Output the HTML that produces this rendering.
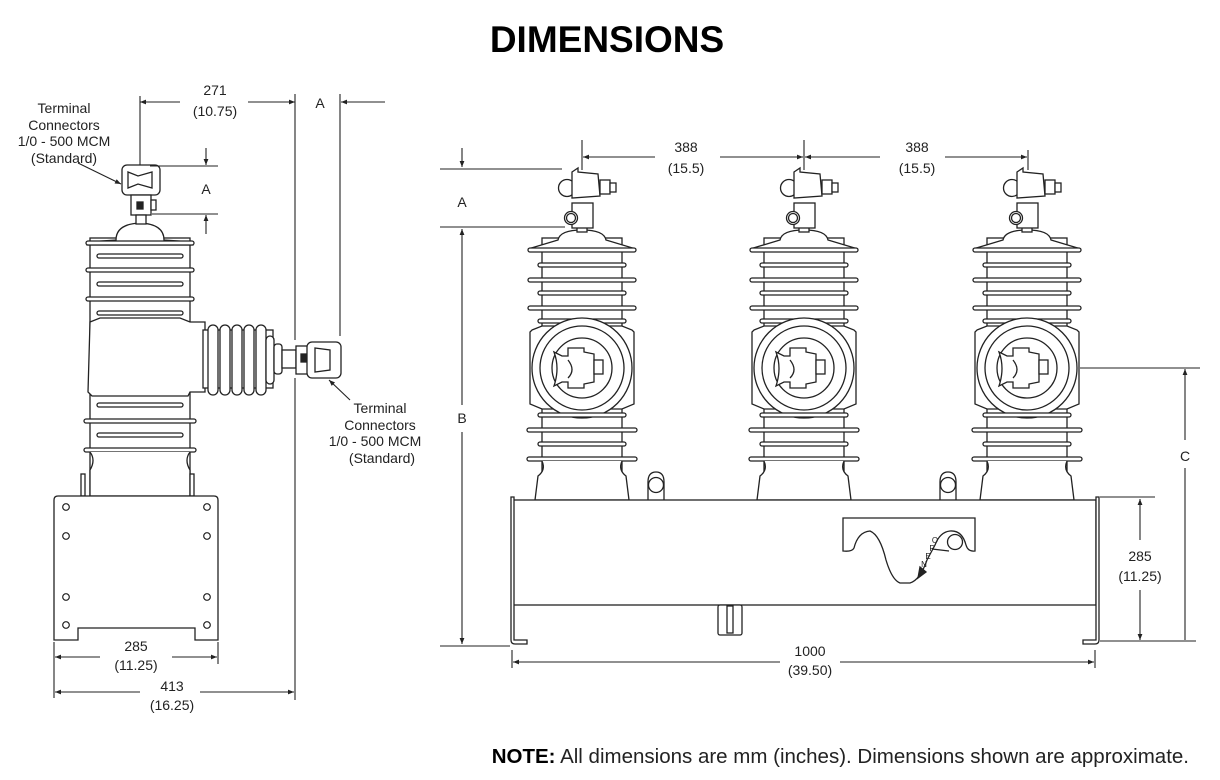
<!DOCTYPE html>
<html><head><meta charset="utf-8"><style>
html,body{margin:0;padding:0;background:#fff}
svg{display:block}
text{font-family:"Liberation Sans",sans-serif;fill:#222}
</style></head><body>
<svg width="1220" height="780" viewBox="0 0 1220 780" xmlns="http://www.w3.org/2000/svg">
<defs>
<marker id="ar" viewBox="0 0 10 10" refX="10" refY="5" markerWidth="8" markerHeight="6" orient="auto-start-reverse" markerUnits="userSpaceOnUse"><path d="M0,1 L10,5 L0,9 Z" fill="#222"/></marker>
<g id="pole" stroke="#222" stroke-width="1.3" fill="#fff">
  <rect x="-40" y="238" width="80" height="262"/>
  <path d="M-24,240 Q-22,230 0,230 Q22,230 24,240 L54,249 L-54,249 Z"/>
  <rect x="-54" y="248" width="108" height="4" rx="2"/>
  <rect x="-44" y="263" width="88" height="4" rx="2"/>
  <rect x="-54" y="278" width="108" height="4" rx="2"/>
  <rect x="-44" y="291" width="88" height="4" rx="2"/>
  <rect x="-54" y="306" width="108" height="4" rx="2"/>
  <rect x="-44" y="319" width="88" height="4" rx="2"/>
  <path d="M-50,330 L-40,326 L40,326 L50,330 L52,332 L52,404 L40,409 L-40,409 L-52,404 L-52,332 Z"/>
  <circle cx="0" cy="368" r="50"/>
  <circle cx="0" cy="368" r="42"/>
  <circle cx="0" cy="368" r="30"/>
  <path d="M-28,352 L-20,356 L-14,356 L-14,348 L2,348 L2,352 L12,354 L12,382 L2,384 L2,388 L-14,388 L-14,382 L-20,382 L-28,386 Q-22,368 -28,352 Z"/>
  <rect x="12" y="360" width="9" height="14"/>
  <path d="M-14,360 Q-6,370 -14,378" fill="none"/>
  <rect x="-44" y="413" width="88" height="4" rx="2"/>
  <rect x="-55" y="428" width="110" height="4" rx="2"/>
  <rect x="-44" y="442" width="88" height="4" rx="2"/>
  <rect x="-55" y="457" width="110" height="4" rx="2"/>
  <path d="M-40,461 Q-36,470 -44,476 L-47,500 L47,500 L44,476 Q36,470 40,461"/>
  <rect x="-5" y="227" width="10" height="5"/>
  <rect x="-10" y="203" width="21" height="25"/>
  <circle cx="-11" cy="218" r="6.5"/>
  <circle cx="-11" cy="218" r="4.5"/>
  <circle cx="-15" cy="188" r="8.5"/>
  <path d="M-10,172 L-4,168 L-4,172 L16,174 L18,196 L-10,198 Z"/>
  <rect x="18" y="180" width="10" height="14"/>
  <rect x="28" y="183" width="6" height="9"/>
</g>
</defs>

<text x="607" y="52" font-size="37" font-weight="bold" text-anchor="middle" style="fill:#000">DIMENSIONS</text>

<!-- LEFT VIEW -->
<g stroke="#222" stroke-width="1.3" fill="#fff">
  <rect x="90" y="238" width="100" height="258"/>
  <path d="M116,240 Q116,224 140,223 Q164,224 164,240 L193,242 L193,245 L87,245 L87,242 Z"/>
  <rect x="86" y="241" width="108" height="4" rx="2"/>
  <rect x="97" y="254" width="86" height="4" rx="2"/>
  <rect x="86" y="268" width="108" height="4" rx="2"/>
  <rect x="97" y="282" width="86" height="4" rx="2"/>
  <rect x="86" y="297" width="108" height="4" rx="2"/>
  <rect x="97" y="311" width="86" height="4" rx="2"/>
  <path d="M90,322 L100,318 L180,318 L190,322 L205,322 L205,392 L190,392 L188,396 L92,396 L88,392 Z"/>
  <rect x="97" y="403" width="86" height="4" rx="2"/>
  <rect x="84" y="419" width="112" height="4" rx="2"/>
  <rect x="97" y="433" width="86" height="4" rx="2"/>
  <rect x="84" y="448" width="112" height="4" rx="2"/>
  <path d="M90,452 Q96,460 90,470 L90,496 L190,496 L190,470 Q184,460 190,452"/>
  <rect x="81" y="474" width="4" height="22"/>
  <rect x="190" y="474" width="4" height="22"/>
  <rect x="203" y="330" width="70" height="58"/>
  <rect x="208" y="325" width="10" height="70" rx="5"/>
  <rect x="220" y="325" width="10" height="70" rx="5"/>
  <rect x="232" y="325" width="10" height="70" rx="5"/>
  <rect x="244" y="325" width="10" height="70" rx="5"/>
  <rect x="256" y="325" width="10" height="70" rx="5"/>
  <rect x="266" y="336" width="8" height="48" rx="4"/>
  <rect x="274" y="344" width="8" height="30" rx="3"/>
  <rect x="282" y="350" width="14" height="18"/>
  <rect x="296" y="346" width="16" height="28"/>
  <rect x="307" y="342" width="34" height="36" rx="5"/>
  <path d="M315,348 L330,350 L330,370 L315,372 Z" fill="none"/>
  <rect x="301" y="354" width="5" height="8" fill="#222"/>
  <rect x="122" y="165" width="38" height="30" rx="5"/>
  <path d="M128,172 L138,176 L152,172 L152,188 L138,184 L128,188 Z" fill="none"/>
  <rect x="131" y="195" width="20" height="20"/>
  <rect x="137" y="202" width="6" height="7" fill="#222"/>
  <rect x="151" y="200" width="5" height="10"/>
  <rect x="136" y="215" width="10" height="9"/>
  <path d="M54,500 Q54,496 58,496 L214,496 Q218,496 218,500 L218,640 L195,640 L195,628 L78,628 L78,640 L54,640 Z"/>
</g>
<g stroke="#222" stroke-width="1.2" fill="#fff">
  <circle cx="66" cy="507" r="3.3"/><circle cx="66" cy="536" r="3.3"/><circle cx="66" cy="597" r="3.3"/><circle cx="66" cy="625" r="3.3"/>
  <circle cx="207" cy="507" r="3.3"/><circle cx="207" cy="536" r="3.3"/><circle cx="207" cy="597" r="3.3"/><circle cx="207" cy="625" r="3.3"/>
</g>
<g stroke="#222" stroke-width="1.1" fill="none">
  <line x1="140" y1="96" x2="140" y2="165"/>
  <line x1="295" y1="94" x2="295" y2="340"/>
  <line x1="295" y1="378" x2="295" y2="700"/>
  <line x1="340" y1="94" x2="340" y2="336"/>
  <line x1="140" y1="102" x2="180" y2="102" marker-start="url(#ar)"/>
  <line x1="248" y1="102" x2="295" y2="102" marker-end="url(#ar)"/>
  <line x1="385" y1="102" x2="341" y2="102" marker-end="url(#ar)"/>
  <line x1="150" y1="166" x2="218" y2="166"/>
  <line x1="152" y1="214" x2="218" y2="214"/>
  <line x1="206" y1="148" x2="206" y2="165" marker-end="url(#ar)"/>
  <line x1="206" y1="234" x2="206" y2="215" marker-end="url(#ar)"/>
  <line x1="78" y1="163" x2="121" y2="184" marker-end="url(#ar)"/>
  <line x1="350" y1="400" x2="329" y2="380" marker-end="url(#ar)"/>
  <line x1="54" y1="642" x2="54" y2="698"/>
  <line x1="218" y1="642" x2="218" y2="664"/>
  <line x1="55" y1="657" x2="100" y2="657" marker-start="url(#ar)"/>
  <line x1="172" y1="657" x2="217" y2="657" marker-end="url(#ar)"/>
  <line x1="55" y1="692" x2="140" y2="692" marker-start="url(#ar)"/>
  <line x1="200" y1="692" x2="294" y2="692" marker-end="url(#ar)"/>
</g>
<g font-size="14" text-anchor="middle">
  <text x="215" y="95">271</text><text x="215" y="116">(10.75)</text>
  <text x="320" y="108">A</text>
  <text x="206" y="194">A</text>
  <text x="64" y="113">Terminal</text><text x="64" y="130">Connectors</text><text x="64" y="146">1/0 - 500 MCM</text><text x="64" y="163">(Standard)</text>
  <text x="380" y="413">Terminal</text><text x="380" y="430">Connectors</text><text x="375" y="446">1/0 - 500 MCM</text><text x="382" y="463">(Standard)</text>
  <text x="136" y="651">285</text><text x="136" y="670">(11.25)</text>
  <text x="172" y="691">413</text><text x="172" y="710">(16.25)</text>
</g>

<!-- RIGHT VIEW -->
<g stroke="#222" stroke-width="1.3" fill="#fff">
  <path d="M648,500 L648,482 Q648,472 656,472 Q664,472 664,482 L664,500"/>
  <circle cx="656" cy="485" r="7.5"/>
  <path d="M940,500 L940,482 Q940,472 948,472 Q956,472 956,482 L956,500"/>
  <circle cx="948" cy="485" r="7.5"/>
</g>
<use href="#pole" x="582"/>
<use href="#pole" x="804"/>
<use href="#pole" x="1027"/>
<g stroke="#222" stroke-width="1.3" fill="#fff">
  <rect x="513" y="500" width="583" height="105"/>
  <path d="M511,497 L514,497 L514,640 L527,640 L527,644 L515,644 Q511,644 511,640 Z"/>
  <path d="M1099,497 L1096,497 L1096,640 L1083,640 L1083,644 L1095,644 Q1099,644 1099,640 Z"/>
  <path d="M843,518 L975,518 L975,551 Q968,552 966,545 Q962,530 950,531 Q940,532 935,545 L927,560 Q920,580 910,583 L900,583 Q892,580 886,560 Q880,535 870,531 Q858,532 854,548 Q852,552 843,551 Z"/>
  <circle cx="955" cy="542" r="7.5"/>
  <path d="M932,549 L949,551" fill="none"/>
  <path d="M920,567 L926,572 L918,578 Z" fill="#222"/>
  <rect x="718" y="605" width="24" height="30" rx="2"/>
  <rect x="727" y="606" width="6" height="27"/>
</g>
<g font-size="8" text-anchor="middle">
  <text x="935" y="543">O</text><text x="932" y="551">P</text><text x="928" y="559">E</text><text x="924" y="567">N</text>
</g>
<g stroke="#222" stroke-width="1.1" fill="none">
  <line x1="582" y1="140" x2="582" y2="170"/>
  <line x1="804" y1="140" x2="804" y2="170"/>
  <line x1="1028" y1="150" x2="1028" y2="170"/>
  <line x1="583" y1="157" x2="655" y2="157" marker-start="url(#ar)"/>
  <line x1="720" y1="157" x2="803" y2="157" marker-end="url(#ar)"/>
  <line x1="805" y1="157" x2="880" y2="157" marker-start="url(#ar)"/>
  <line x1="945" y1="157" x2="1027" y2="157" marker-end="url(#ar)"/>
  <line x1="440" y1="169" x2="562" y2="169"/>
  <line x1="440" y1="227" x2="565" y2="227"/>
  <line x1="462" y1="148" x2="462" y2="167" marker-end="url(#ar)"/>
  <line x1="462" y1="229" x2="462" y2="405" marker-start="url(#ar)"/>
  <line x1="462" y1="432" x2="462" y2="644" marker-end="url(#ar)"/>
  <line x1="440" y1="646" x2="510" y2="646"/>
  <line x1="1080" y1="368" x2="1200" y2="368"/>
  <line x1="1185" y1="369" x2="1185" y2="440" marker-start="url(#ar)"/>
  <line x1="1185" y1="468" x2="1185" y2="640"/>
  <line x1="1100" y1="641" x2="1196" y2="641"/>
  <line x1="1100" y1="497" x2="1155" y2="497"/>
  <line x1="1140" y1="499" x2="1140" y2="540" marker-start="url(#ar)"/>
  <line x1="1140" y1="590" x2="1140" y2="640" marker-end="url(#ar)"/>
  <line x1="512" y1="650" x2="512" y2="668"/>
  <line x1="1095" y1="650" x2="1095" y2="668"/>
  <line x1="513" y1="662" x2="780" y2="662" marker-start="url(#ar)"/>
  <line x1="840" y1="662" x2="1094" y2="662" marker-end="url(#ar)"/>
</g>
<g font-size="14" text-anchor="middle">
  <text x="686" y="152">388</text><text x="686" y="173">(15.5)</text>
  <text x="917" y="152">388</text><text x="917" y="173">(15.5)</text>
  <text x="462" y="207">A</text>
  <text x="462" y="423">B</text>
  <text x="1185" y="461">C</text>
  <text x="1140" y="561">285</text><text x="1140" y="581">(11.25)</text>
  <text x="810" y="656">1000</text><text x="810" y="675">(39.50)</text>
</g>
<text x="1189" y="763" font-size="20.5" text-anchor="end"><tspan font-weight="bold" style="fill:#000">NOTE:</tspan> All dimensions are mm (inches). Dimensions shown are approximate.</text>
</svg>
</body></html>
